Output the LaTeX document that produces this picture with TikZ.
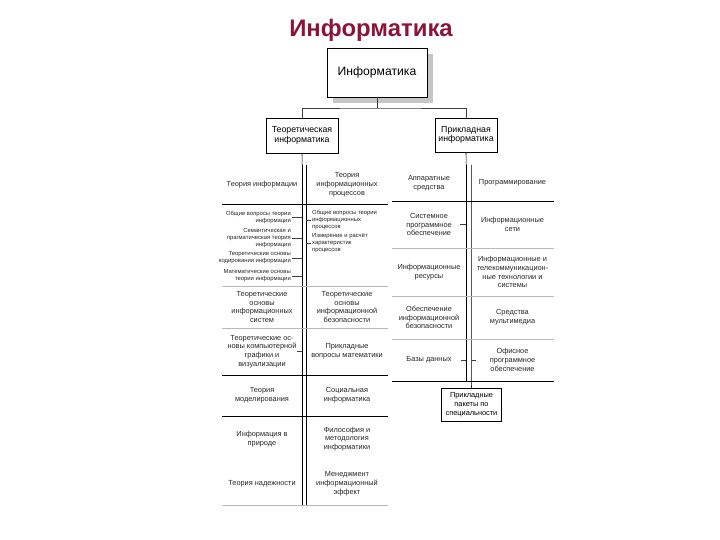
\documentclass[tikz,border=0pt]{standalone}
\usepackage{fontspec}
\setmainfont{Liberation Sans}
\usetikzlibrary{shadows}
\definecolor{titlered}{RGB}{139,21,56}
\newcommand{\cellfont}{\fontsize{7.4}{8.8}\selectfont}
\newcommand{\itemfont}{\fontsize{5.9}{7.1}\selectfont}
\tikzset{
  cell/.style={align=center, inner sep=0pt, font=\cellfont, text=black!85},
  lcell/.style={cell, minimum width=80bp},
  rcell/.style={cell, minimum width=82bp},
  acell/.style={cell, minimum width=74bp},
  item/.style={inner sep=1pt, font=\itemfont, text=black!85},
  headbox/.style={draw, semithick, fill=white, align=center, inner sep=0pt, font=\fontsize{8.8}{9.8}\selectfont},
  sep/.style={black, semithick},
  faint/.style={gray!55},
  link/.style={black!75}
}
\begin{document}
\begin{tikzpicture}[x=1bp, y=-1bp]
    \useasboundingbox (0,0) rectangle (720,540);
    \node[font=\fontsize{24}{28}\selectfont\bfseries, text=titlered] (title) at (371,30) {Информатика};
    \node[headbox, minimum width=100bp, minimum height=49bp, font=\fontsize{12.2}{14}\selectfont,
          drop shadow={shadow xshift=6bp, shadow yshift=-6bp, fill=gray!45, opacity=1}] (inf) at (377,72.5) {Информатика};
    \node[headbox, minimum width=72bp, minimum height=35bp] (tinf) at (302,135.5) {Теоретическая\\информатика};
    \node[headbox, minimum width=62bp, minimum height=34bp] (pinf) at (466,135) {Прикладная\\информатика};
    \coordinate (bar) at (377,108);
    \draw[link] (inf.south) -- (bar);
    \draw[link] (tinf.north) |- (bar) -| (pinf.north);

    \node[lcell, minimum height=39bp] (tl1) at (262,184.5) {Теория информации};
    \node[rcell, minimum height=39bp] (tr1) at (347,184.5) {Теория\\информационных\\процессов};
    \node[lcell, minimum height=42bp] (tl3) at (262,307) {Теоретические\\основы\\информационных\\систем};
    \node[rcell, minimum height=42bp] (tr3) at (347,307) {Теоретические\\основы\\информационной\\безопасности};
    \node[lcell, minimum height=47bp] (tl4) at (262,351.5) {Теоретические ос-\\новы компьютерной\\графики и\\визуализации};
    \node[rcell, minimum height=47bp] (tr4) at (347,351.5) {Прикладные\\вопросы математики};
    \node[lcell, minimum height=41bp] (tl5) at (262,395.5) {Теория\\моделирования};
    \node[rcell, minimum height=41bp] (tr5) at (347,395.5) {Социальная\\информатика};
    \node[lcell, minimum height=46bp] (tl6) at (262,439) {Информация в\\природе};
    \node[rcell, minimum height=46bp] (tr6) at (347,439) {Философия и\\методология\\информатики};
    \node[lcell, minimum height=43bp] (tl7) at (262,483.5) {Теория надежности};
    \node[rcell, minimum height=43bp] (tr7) at (347,483.5) {Менеджмент\\информационный\\эффект};

    \node[item, anchor=east, align=right] (gi1) at (292,217) {Общие вопросы теории\\информации};
    \node[item, anchor=east, align=right] (gi2) at (292,238) {Семантическая и\\прагматическая теория\\информации};
    \node[item, anchor=east, align=right] (gi3) at (292,258) {Теоретические основы\\кодирования информации};
    \node[item, anchor=east, align=right] (gi4) at (292,276) {Математические основы\\теории информации};
    \node[item, anchor=west, align=left] (ri1) at (311,220) {Общие вопросы теории\\информационных\\процессов};
    \node[item, anchor=west, align=left] (ri2) at (311,243) {Измерение и расчёт\\характеристик\\процессов};

    \draw[sep] (tinf.south) -- (tl1.north east);
    \draw[sep] (tl1.north east) -- (tl7.south east);
    \draw[sep] (tr1.north west) -- (tr7.south west);
    \draw[sep] (tl1.south west) -- (tr1.south east);
    \draw[faint] (tl3.north west) -- (tr3.north east);
    \draw[faint] (tl3.south west) -- (tr3.south east);
    \draw[sep] (tl4.south west) -- (tr4.south east);
    \draw[sep] (tl5.south west) -- (tr5.south east);
    \draw[faint] (tl7.south west) -- (tr7.south east);
    \foreach \i in {gi1,gi2,gi3,gi4} \draw[link] (\i.east) -- (\i.east -| tl1.east);
    \foreach \i in {ri1,ri2} \draw[link] (\i.west) -- (\i.west -| tr1.west);
    \draw[link] (tl4.east) -- ++(-5,0);

    \node[acell, minimum height=36bp] (pl1) at (429,183) {Аппаратные\\средства};
    \node[rcell, minimum height=36bp] (pr1) at (512.5,183) {Программирование};
    \node[acell, minimum height=47bp] (pl2) at (429,224.5) {Системное\\программное\\обеспечение};
    \node[rcell, minimum height=47bp] (pr2) at (512.5,224.5) {Информационные\\сети};
    \node[acell, minimum height=48bp] (pl3) at (429,272) {Информационные\\ресурсы};
    \node[rcell, minimum height=48bp] (pr3) at (512.5,272) {Информационные и\\телекоммуникацион-\\ные технологии и\\системы};
    \node[acell, minimum height=43bp] (pl4) at (429,317.5) {Обеспечение\\информационной\\безопасности};
    \node[rcell, minimum height=43bp] (pr4) at (512.5,317.5) {Средства\\мультимедиа};
    \node[acell, minimum height=42bp] (pl5) at (429,360) {Базы данных};
    \node[rcell, minimum height=42bp] (pr5) at (512.5,360) {Офисное\\программное\\обеспечение};
    \node[headbox, font=\cellfont, minimum width=60bp, minimum height=33bp] (ppk) at (471.5,404.5) {Прикладные\\пакеты по\\специальности};

    \draw[sep] (pinf.south) -- (pl1.north east);
    \draw[sep] (pl1.north east) -- (pl5.south east);
    \draw[sep] (pr1.north west) -- (pr5.south west) -- (ppk.north);
    \draw[sep] (pl1.south west) -- (pr1.south east);
    \draw[faint] (pl3.north west) -- (pr3.north east);
    \draw[faint] (pl4.north west) -- (pr4.north east);
    \draw[faint] (pl5.north west) -- (pr5.north east);
    \draw[sep] (pl5.south west) -- (pr5.south east);
    \draw[link] (pl2.east) -- ++(-6,0);
    \draw[link] (pl5.east) -- ++(-5,0);
    \draw[link] (pr5.west) -- ++(5,0);
\end{tikzpicture}
\end{document}
